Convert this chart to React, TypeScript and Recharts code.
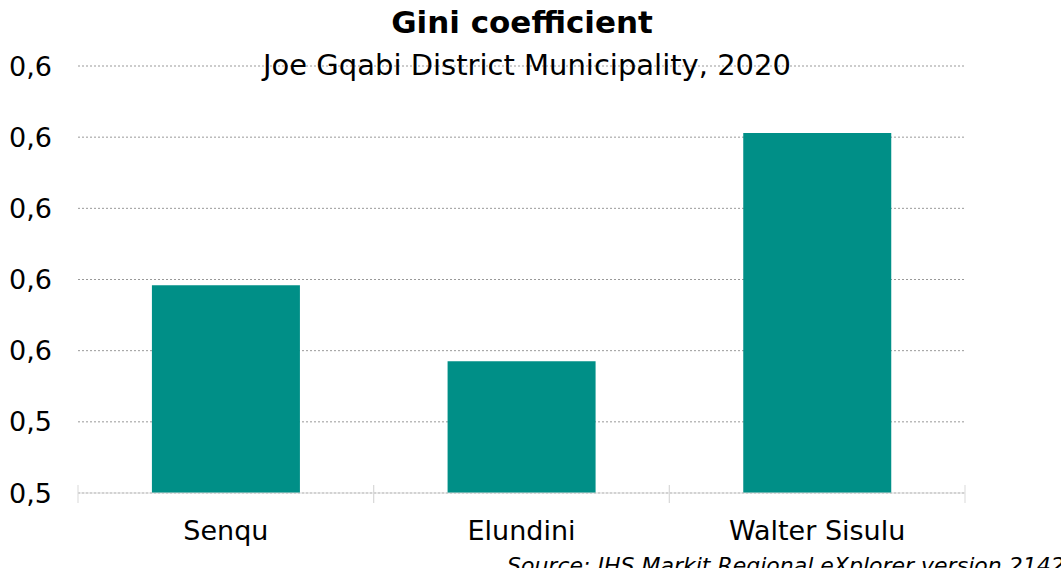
import { BarChart, Bar, XAxis, YAxis, CartesianGrid } from "recharts";

const categories = ["Senqu", "Elundini", "Walter Sisulu"];
const giniValues = [0.5592, 0.5485, 0.5806];
const yTicks = [0.53, 0.54, 0.55, 0.56, 0.57, 0.58, 0.59];

const data = categories.map((name, i) => ({ name, gini: giniValues[i] }));

const W = 1061;
const H = 568;
const xAxisHeight = 30;
const margin = { top: 66, right: 96, bottom: 75 - xAxisHeight, left: 0 };
const yAxisWidth = 78;
const plotWidth = W - margin.left - margin.right - yAxisWidth;
const halfBand = plotWidth / categories.length / 2;
const font = "'DejaVu Sans', Verdana, sans-serif";

const fmt = (v: number) => v.toFixed(1).replace(".", ",");

function CategoryTick(props: any) {
  const { x, y, payload } = props;
  return (
    <g>
      <line x1={x - halfBand} x2={x - halfBand} y1={y - 8} y2={y + 10} stroke="#d9d9d9" />
      <line x1={x + halfBand} x2={x + halfBand} y1={y - 8} y2={y + 10} stroke="#d9d9d9" />
      <text x={x} y={y + 47} textAnchor="middle" fill="#000" fontSize={27} fontFamily={font}>
        {payload.value}
      </text>
    </g>
  );
}

export default function App() {
  return (
    <div style={{ position: "absolute", left: 0, top: 0, width: W, height: H, background: "#fff", overflow: "hidden", fontFamily: font }}>
      <BarChart width={W} height={H} data={data} margin={margin} barCategoryGap="25%">
        <CartesianGrid vertical={false} stroke="#999" strokeDasharray="2 2" />
        <XAxis
          dataKey="name"
          height={xAxisHeight}
          axisLine={{ stroke: "#d9d9d9" }}
          tickLine={false}
          tickSize={0}
          tickMargin={0}
          tick={<CategoryTick />}
          interval={0}
        />
        <YAxis
          width={yAxisWidth}
          domain={[0.53, 0.59]}
          ticks={yTicks}
          tickFormatter={fmt}
          axisLine={false}
          tickLine={false}
          tickSize={0}
          tickMargin={26}
          tick={{ fill: "#000", fontSize: 27, fontFamily: font }}
        />
        <Bar dataKey="gini" fill="#008F87" isAnimationActive={false} />
      </BarChart>
      <div style={{ position: "absolute", left: 0, width: 1044, top: 4, textAlign: "center", fontSize: 31, fontWeight: "bold", color: "#000", whiteSpace: "nowrap" }}>
        Gini coefficient
      </div>
      <div style={{ position: "absolute", left: 0, width: 1054, top: 48, textAlign: "center", fontSize: 29, color: "#000", whiteSpace: "nowrap" }}>
        Joe Gqabi District Municipality, 2020
      </div>
      <div style={{ position: "absolute", left: 507, top: 553, whiteSpace: "nowrap", fontSize: 22, fontStyle: "italic", color: "#000" }}>
        Source: IHS Markit Regional eXplorer version 2142
      </div>
    </div>
  );
}
